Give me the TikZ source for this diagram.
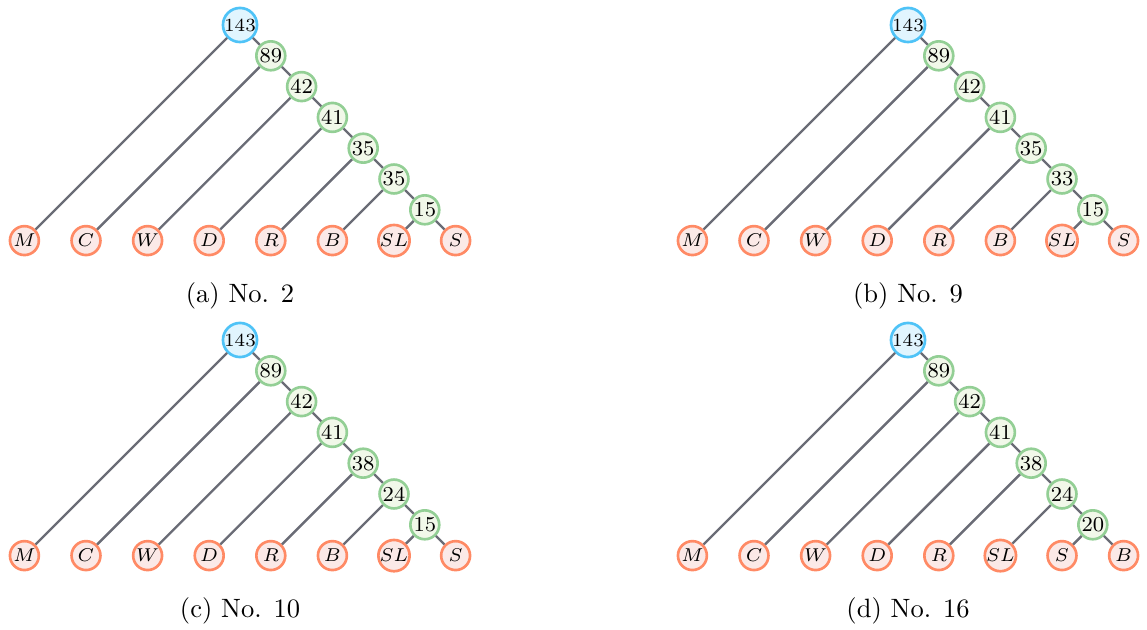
\documentclass[tikz,border=0pt]{standalone}
\usetikzlibrary{calc}
\definecolor{edgegray}{HTML}{6A6C76}
\definecolor{rootdraw}{HTML}{4FC3F7}
\definecolor{rootfill}{HTML}{E1F5FE}
\definecolor{innerdraw}{HTML}{93CF95}
\definecolor{innerfill}{HTML}{F1F8E9}
\definecolor{leafdraw}{HTML}{FF8A65}
\definecolor{leaffill}{HTML}{FBE9E7}
\tikzset{
  tnode/.style={circle, line width=1pt, minimum size=10.9pt, inner sep=0pt},
  rootnode/.style={tnode, draw=rootdraw, fill=rootfill, font=\scriptsize},
  innernode/.style={tnode, draw=innerdraw, fill=innerfill, font=\footnotesize},
  leafnode/.style={tnode, draw=leafdraw, fill=leaffill, font=\scriptsize},
  tedge/.style={draw=edgegray, line width=0.9pt},
  capt/.style={font=\normalsize}
}
\newcommand{\drawtree}[6]{%
  \foreach \v [count=\i from 0] in {#4} {
    \ifnum\i=0
      \node[rootnode] (#1n\i) at ({#2+30.8*\i},{#3+30.8*\i}) {\v};
    \else
      \node[innernode] (#1n\i) at ({#2+30.8*\i},{#3+30.8*\i}) {\v};
    \fi
  }
  \foreach \l [count=\j from 0] in {#5} {
    \node[leafnode] (#1l\j) at ({#2-215.6+61.6*\j},{#3+215.6}) {$\l$};
  }
  \foreach \i in {0,...,6} {
    \draw[tedge] (#1n\i) -- (#1l\i);
  }
  \foreach \i [evaluate=\i as \k using int(\i+1)] in {0,...,5} {
    \draw[tedge] (#1n\i) -- (#1n\k);
  }
  \draw[tedge] (#1n6) -- (#1l7);
  \node[capt] (#1cap) at (#2,{#3+271}) {#6};
}
\begin{document}
\begin{tikzpicture}[x=0.377pt,y=-0.377pt]
\useasboundingbox (0,0) rectangle (1147,630);
\drawtree{a}{240}{25}{143,89,42,41,35,35,15}{M,C,W,D,R,B,SL,S}{(a) No. 2}
\drawtree{b}{908}{25}{143,89,42,41,35,33,15}{M,C,W,D,R,B,SL,S}{(b) No. 9}
\drawtree{c}{240}{340}{143,89,42,41,38,24,15}{M,C,W,D,R,B,SL,S}{(c) No. 10}
\drawtree{d}{908}{340}{143,89,42,41,38,24,20}{M,C,W,D,R,SL,S,B}{(d) No. 16}
\end{tikzpicture}
\end{document}
